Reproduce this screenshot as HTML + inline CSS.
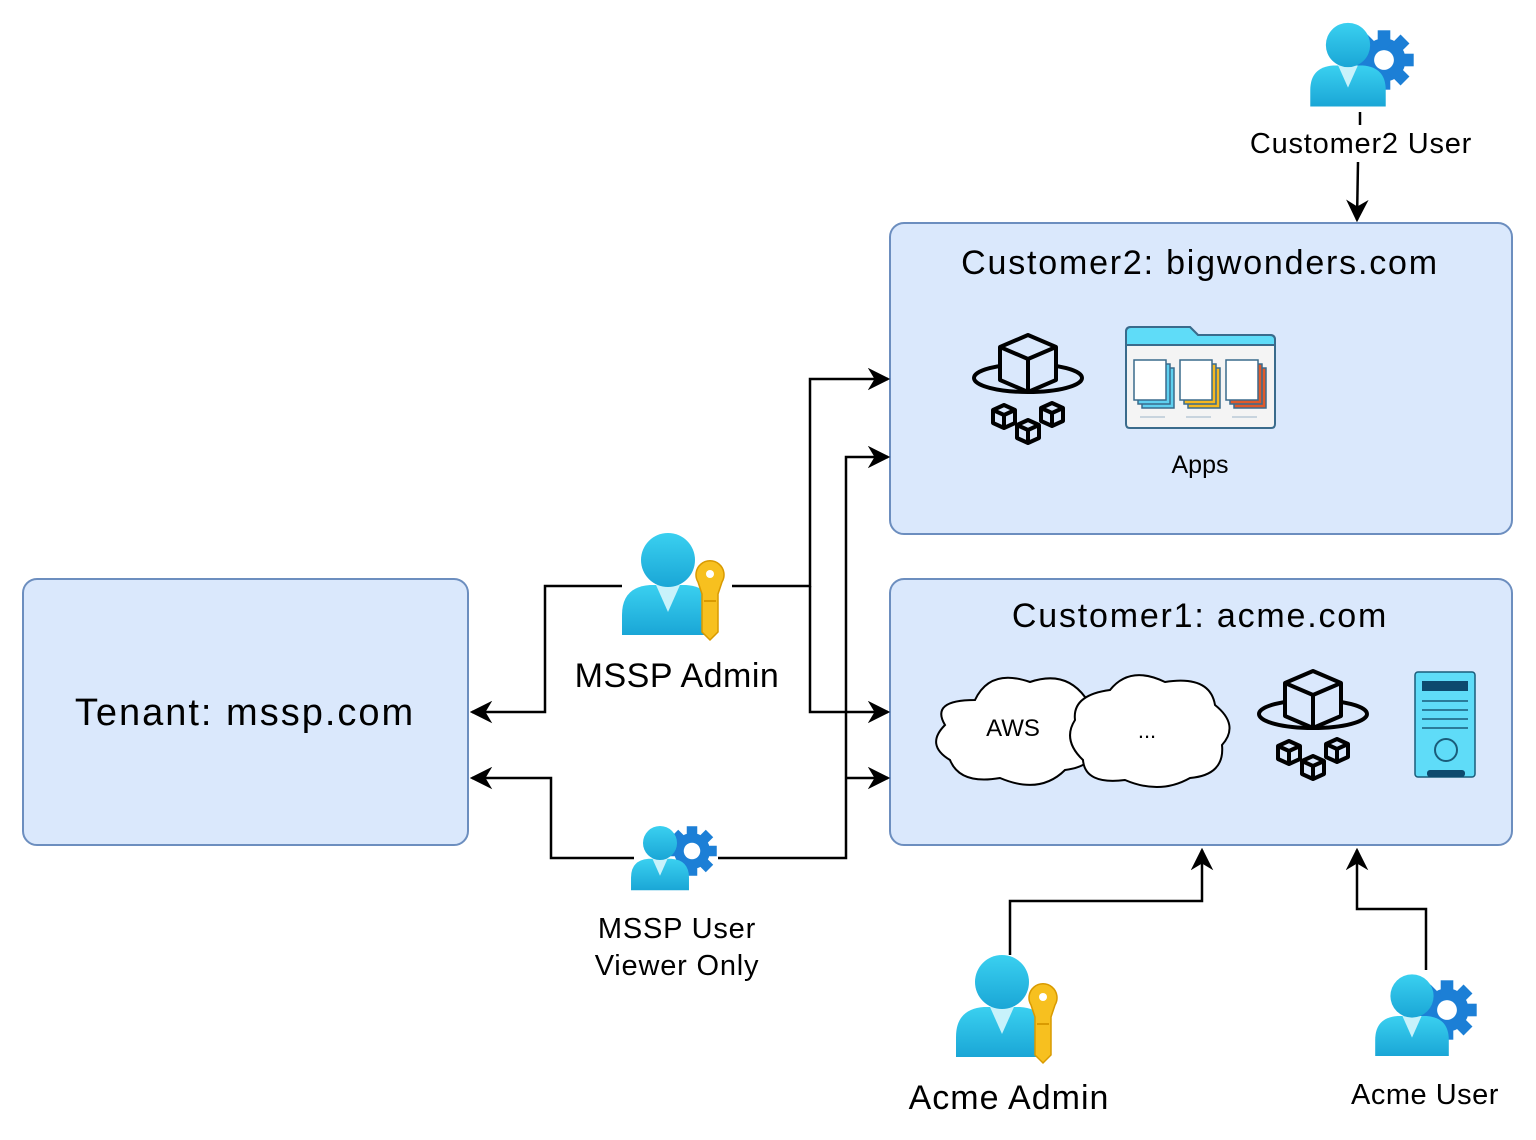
<!DOCTYPE html>
<html><head><meta charset="utf-8"><style>
html,body{margin:0;padding:0;background:#fff;}
svg{display:block;font-family:"Liberation Sans",sans-serif;}
</style></head><body>
<svg width="1536" height="1140" viewBox="0 0 1536 1140" xmlns="http://www.w3.org/2000/svg">
<defs>
<linearGradient id="ug" x1="0" y1="0" x2="0" y2="1"><stop offset="0" stop-color="#3ad0f0"/><stop offset="1" stop-color="#1aa6d6"/></linearGradient>
<marker id="ar" viewBox="0 0 10 10" refX="9" refY="5" markerWidth="9" markerHeight="9" orient="auto"><path d="M0,0 L10,5 L0,10 L3,5 Z" fill="#000"/></marker>
<g id="user">
<path d="M-46,75 L-46,55 Q-46,27 -18,25 L18,25 Q46,27 46,55 L46,75 Z" fill="url(#ug)"/>
<path d="M-12,25 L12,25 L0,52 Z" fill="#c8f2fb"/>
<circle cx="0" cy="0" r="27" fill="url(#ug)"/>
</g>
<g id="gear">
<circle r="24" fill="#1c7fd6"/>
<g fill="#1c7fd6"><rect x="-7" y="-33" width="14" height="66"/><rect x="-33" y="-7" width="66" height="14"/><rect x="-7" y="-33" width="14" height="66" transform="rotate(45)"/><rect x="-7" y="-33" width="14" height="66" transform="rotate(-45)"/></g>
<circle r="11" fill="#fff"/>
</g>
<g id="key">
<path d="M-12,-20 a14,14 0 1,1 24,0 L8,-8 L8,30 L0,38 L-8,30 L-8,-8 Z" fill="#f7c01f" stroke="#d99a00" stroke-width="1.5"/>
<circle cx="0" cy="-28" r="4" fill="#fff"/>
<rect x="-6" y="-2" width="12" height="2" fill="#d99a00"/>
</g>
<g id="cubes" fill="#dae8fc" stroke="#000" stroke-width="4" stroke-linejoin="round">
<ellipse cx="0" cy="43" rx="54" ry="14" fill="none"/>
<path d="M0,0 L28,12 L28,45 L0,57 L-28,45 L-28,12 Z"/>
<path d="M-28,12 L0,24 L28,12 M0,24 L0,57" fill="none"/>
</g>
<g id="sc" fill="#dae8fc" stroke="#000" stroke-width="4" stroke-linejoin="round"><path d="M0,-11 L11,-6 L11,7 L0,12 L-11,7 L-11,-6 Z"/><path d="M-11,-6 L0,-1 L11,-6 M0,-1 L0,12" fill="none"/></g>
</defs>

<rect x="23" y="579" width="445" height="266" rx="14" fill="#dae8fc" stroke="#6c8ebf" stroke-width="2"/>
<rect x="890" y="223" width="622" height="311" rx="14" fill="#dae8fc" stroke="#6c8ebf" stroke-width="2"/>
<rect x="890" y="579" width="622" height="266" rx="14" fill="#dae8fc" stroke="#6c8ebf" stroke-width="2"/>
<text x="245" y="725" font-size="38" text-anchor="middle" letter-spacing="2">Tenant: mssp.com</text>
<text x="1200" y="274" font-size="34" text-anchor="middle" letter-spacing="1.8">Customer2: bigwonders.com</text>
<text x="1200" y="627" font-size="34" text-anchor="middle" letter-spacing="1.8">Customer1: acme.com</text>
<text x="1200" y="473" font-size="25" text-anchor="middle">Apps</text>

<g fill="none" stroke="#000" stroke-width="2.5">
<path d="M622,586 L545,586 L545,712 L472,712" marker-end="url(#ar)"/>
<path d="M732,586 L810,586 L810,379 L888,379" marker-end="url(#ar)"/>
<path d="M810,586 L810,712 L888,712" marker-end="url(#ar)"/>
<path d="M634,858 L551,858 L551,778 L472,778" marker-end="url(#ar)"/>
<path d="M718,858 L846,858 L846,457 L888,457" marker-end="url(#ar)"/>
<path d="M846,778 L888,778" marker-end="url(#ar)"/>
<path d="M1360,112 L1360,126"/>
<path d="M1358,162 L1357,220" marker-end="url(#ar)"/>
<path d="M1010,955 L1010,901 L1202,901 L1202,850" marker-end="url(#ar)"/>
<path d="M1426,970 L1426,909 L1357,909 L1357,850" marker-end="url(#ar)"/>
</g>

<use href="#cubes" x="1028" y="335"/>
<use href="#sc" x="1004" y="416"/><use href="#sc" x="1052" y="414"/><use href="#sc" x="1028" y="431"/>
<use href="#cubes" x="1313" y="671"/>
<use href="#sc" x="1289" y="752"/><use href="#sc" x="1337" y="750"/><use href="#sc" x="1313" y="767"/>

<g>
<path d="M1126,332 Q1126,327 1131,327 L1190,327 L1198,335 L1270,335 Q1275,335 1275,340 L1275,424 Q1275,428 1271,428 L1130,428 Q1126,428 1126,424 Z" fill="#f4f4f4" stroke="#3a6b8c" stroke-width="2"/>
<path d="M1126,345 L1126,332 Q1126,327 1131,327 L1190,327 L1198,335 L1270,335 Q1275,335 1275,340 L1275,345 Z" fill="#5fdcf8" stroke="#3a6b8c" stroke-width="2"/>
<g stroke="#3a6b8c" stroke-width="1.5">
<rect x="1142" y="368" width="32" height="40" fill="#5fd0f0"/><rect x="1138" y="364" width="32" height="40" fill="#5fd0f0"/><rect x="1134" y="360" width="32" height="40" fill="#fff"/>
<rect x="1188" y="368" width="32" height="40" fill="#f5b820"/><rect x="1184" y="364" width="32" height="40" fill="#f5b820"/><rect x="1180" y="360" width="32" height="40" fill="#fff"/>
<rect x="1234" y="368" width="32" height="40" fill="#e05a2a"/><rect x="1230" y="364" width="32" height="40" fill="#e05a2a"/><rect x="1226" y="360" width="32" height="40" fill="#fff"/>
</g>
<g stroke="#c8d4de" stroke-width="2"><line x1="1140" y1="417" x2="1165" y2="417"/><line x1="1186" y1="417" x2="1211" y2="417"/><line x1="1232" y1="417" x2="1257" y2="417"/></g>
</g>

<g fill="#fff" stroke="#000" stroke-width="2">
<path d="M975,700 Q990,668 1030,682 Q1065,670 1085,697 Q1110,705 1090,730 Q1105,765 1065,770 Q1040,795 1000,778 Q960,785 950,760 Q925,745 945,725 Q930,700 975,700 Z"/>
<path d="M1110,690 Q1130,665 1165,682 Q1210,675 1215,705 Q1240,725 1222,745 Q1225,775 1190,778 Q1160,795 1125,780 Q1085,785 1083,760 Q1062,740 1075,720 Q1072,695 1110,690 Z"/>
</g>
<text x="1013" y="736" font-size="24" text-anchor="middle">AWS</text>
<text x="1147" y="738" font-size="22" text-anchor="middle">...</text>

<rect x="1415" y="672" width="60" height="105" rx="3" fill="#5fdcf8" stroke="#1a5c7a" stroke-width="1.5"/>
<rect x="1422" y="681" width="46" height="10" fill="#0d4a6e"/>
<g stroke="#1a5c7a" stroke-width="1.5"><line x1="1422" y1="701" x2="1468" y2="701"/><line x1="1422" y1="710" x2="1468" y2="710"/><line x1="1422" y1="719" x2="1468" y2="719"/><line x1="1422" y1="728" x2="1468" y2="728"/></g>
<circle cx="1446" cy="750" r="11" fill="none" stroke="#1a5c7a" stroke-width="2"/>
<rect x="1427" y="770" width="38" height="7" rx="3" fill="#0d4a6e"/>

<use href="#gear" transform="translate(1384,60) scale(0.9)"/>
<use href="#user" transform="translate(1348,45) scale(0.82)"/>
<use href="#user" transform="translate(668,560)"/>
<use href="#key" transform="translate(710,602)"/>
<use href="#gear" transform="translate(692,851) scale(0.75)"/>
<use href="#user" transform="translate(660,843) scale(0.63)"/>
<use href="#user" transform="translate(1002,982)"/>
<use href="#key" transform="translate(1043,1025)"/>
<use href="#gear" transform="translate(1447,1010) scale(0.9)"/>
<use href="#user" transform="translate(1412,996) scale(0.8)"/>

<rect x="1248" y="125" width="225" height="36" fill="#fff"/>
<text x="1361" y="153" font-size="29" text-anchor="middle" letter-spacing="0.8">Customer2 User</text>
<rect x="576" y="655" width="202" height="40" fill="#fff"/>
<text x="677" y="687" font-size="34" text-anchor="middle" letter-spacing="0.5">MSSP Admin</text>
<rect x="590" y="909" width="173" height="74" fill="#fff"/>
<text x="677" y="938" font-size="29" text-anchor="middle" letter-spacing="0.8">MSSP User</text>
<text x="677" y="975" font-size="29" text-anchor="middle" letter-spacing="0.8">Viewer Only</text>
<rect x="908" y="1076" width="202" height="40" fill="#fff"/>
<text x="1009" y="1109" font-size="34" text-anchor="middle" letter-spacing="1">Acme Admin</text>
<rect x="1350" y="1076" width="150" height="36" fill="#fff"/>
<text x="1425" y="1104" font-size="29" text-anchor="middle" letter-spacing="0.5">Acme User</text>
</svg>
</body></html>
